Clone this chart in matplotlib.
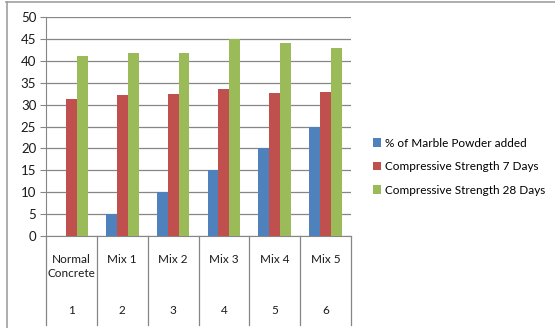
import numpy as np
import matplotlib.pyplot as plt
from matplotlib.lines import Line2D

plt.rcParams['font.family'] = ['Lato', 'DejaVu Sans']

# data
mixes = ["Normal\nConcrete", "Mix 1", "Mix 2", "Mix 3", "Mix 4", "Mix 5"]
mix_numbers = ["1", "2", "3", "4", "5", "6"]
marble_pct = [0, 5, 10, 15, 20, 25]
strength_7 = [31.2, 32.3, 32.5, 33.6, 32.7, 32.9]
strength_28 = [41.1, 41.7, 41.8, 45.0, 44.0, 42.9]

series_names = ["% of Marble Powder added",
                "Compressive Strength 7 Days",
                "Compressive Strength 28 Days"]
colors = ["#4F81BD", "#C0504D", "#9BBB59"]
axis_grey = "#868686"

fig = plt.figure(figsize=(5.55, 3.28), dpi=100)
W, H = 555, 328

# outer chart border (top and left edges visible)
fig.add_artist(Line2D([6 / W, 1.0], [1 - 2 / H, 1 - 2 / H], color="#A0A0A0", lw=1.2))
fig.add_artist(Line2D([7 / W, 7 / W], [0, 1 - 2 / H], color="#A0A0A0", lw=1.2))

ax = fig.add_axes([46 / W, 1 - 236 / H, (351 - 46) / W, (236 - 17) / H])

x = np.arange(len(mixes))
bw = 0.215
for i, (vals, c, name) in enumerate(zip([marble_pct, strength_7, strength_28], colors, series_names)):
    ax.bar(x + (i - 1) * bw, vals, width=bw, color=c, label=name, zorder=3)

ax.set_xlim(-0.5, len(mixes) - 0.5)
ax.set_ylim(0, 50)
ax.set_yticks(np.arange(0, 51, 5))
ax.yaxis.grid(True, color=axis_grey, lw=0.9, zorder=0)
ax.tick_params(axis="y", length=4, color=axis_grey, labelsize=9.5, pad=3, labelcolor="#1a1a1a")
ax.set_xticks([])
for s in ["top", "right"]:
    ax.spines[s].set_visible(False)
for s in ["left", "bottom"]:
    ax.spines[s].set_color(axis_grey)

# multi-level category labels below the axis
tr = ax.get_xaxis_transform()
y_low = -(325 - 236) / (236 - 17)
for b in np.arange(-0.5, len(mixes), 1.0):
    ax.add_line(Line2D([b, b], [0, y_low], transform=tr, color=axis_grey, lw=0.9, clip_on=False))
for xi, name, num in zip(x, mixes, mix_numbers):
    ax.text(xi, -0.08, name, transform=tr, ha="center", va="top", fontsize=8.5,
            color="#1a1a1a", linespacing=1.35)
    ax.text(xi, -0.34, num, transform=tr, ha="center", va="center", fontsize=8.5,
            color="#1a1a1a")

ax.legend(loc="upper left", bbox_to_anchor=(368 / W, 1 - 133 / H), bbox_transform=fig.transFigure,
          frameon=False, fontsize=8.5, handlelength=0.7, handleheight=0.7, handletextpad=0.35,
          labelspacing=1.05, borderaxespad=0)

fig.savefig("out.png", dpi=100)
